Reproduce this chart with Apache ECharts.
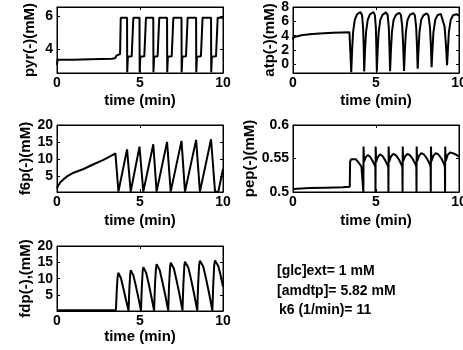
<!DOCTYPE html>
<html>
<head>
<meta charset="utf-8">
<script src="https://cdn.jsdelivr.net/npm/echarts@6.0.0/dist/echarts.min.js"></script>
<style>
html,body{margin:0;padding:0;background:#fff;}
#chart{width:463px;height:350px;}
</style>
</head>
<body>
<div id="chart"></div>
<script>
// ---- data: [time (min), value (mM)] ----
const pyrData = [
  [0,3.05],[0.03,3.38],[1.0,3.38],[2.0,3.41],[3.3,3.44],[3.5,3.47],[3.58,3.62],[3.8,3.72],
  [3.84,5.9],[4.22,5.9],[4.23,2.62],[4.27,3.56],[4.5,3.58],[4.55,3.68],[4.59,3.7],
  [4.6,5.9],[4.97,5.9],[4.98,2.62],[5.02,3.56],[5.26,3.58],[5.31,3.68],[5.35,3.7],
  [5.36,5.9],[5.8,5.9],[5.81,2.62],[5.85,3.56],[6.06,3.58],[6.11,3.68],[6.15,3.7],
  [6.16,5.9],[6.63,5.9],[6.64,2.62],[6.68,3.56],[6.91,3.58],[6.96,3.68],[7.0,3.7],
  [7.01,5.9],[7.5,5.9],[7.51,2.62],[7.55,3.56],[7.77,3.58],[7.82,3.68],[7.86,3.7],
  [7.87,5.9],[8.38,5.9],[8.39,2.62],[8.43,3.56],[8.67,3.58],[8.72,3.68],[8.76,3.7],
  [8.77,5.9],[9.28,5.9],[9.29,2.62],[9.33,3.56],[9.58,3.58],[9.63,3.68],[9.67,3.7],
  [9.68,5.9],[10,5.9]
];
const atpData = [
  [0,3.45],[0.02,3.75],[0.2,3.9],[0.5,4.05],[1.0,4.2],[1.6,4.3],[2.4,4.4],[3.4,4.47],[3.44,4.45],
  [3.51,-1.1],[3.56,2.0],[3.62,4.5],[3.72,6.2],[3.85,6.95],[4.06,7.3],[4.16,6.9],[4.22,5.2],[4.26,2.5],
  [4.29,-1.0],[4.34,2.0],[4.40,4.5],[4.50,6.2],[4.63,6.95],[4.84,7.3],[4.93,6.9],[4.99,5.2],[5.02,2.5],
  [5.05,-1.0],[5.1,2.0],[5.16,4.5],[5.26,6.2],[5.39,6.9],[5.6,7.25],[5.7,6.9],[5.77,5.2],[5.81,2.5],
  [5.85,-0.95],[5.9,2.0],[5.96,4.5],[6.06,6.2],[6.2,6.9],[6.4,7.2],[6.5,6.9],[6.58,5.3],[6.64,2.5],
  [6.69,-0.9],[6.74,2.0],[6.8,4.5],[6.9,6.2],[7.04,6.9],[7.24,7.15],[7.34,6.85],[7.42,5.2],[7.47,2.5],
  [7.51,-0.6],[7.56,2.0],[7.62,4.5],[7.72,6.2],[7.86,6.85],[8.06,7.1],[8.16,6.8],[8.25,5.2],[8.31,2.5],
  [8.35,-0.4],[8.4,2.0],[8.46,4.5],[8.57,6.2],[8.7,6.85],[8.9,7.05],[9.02,6.8],[9.13,5.3],[9.22,2.5],
  [9.28,-0.1],[9.33,2.0],[9.39,4.5],[9.5,6.2],[9.64,6.85],[9.84,7.0],[10,6.8]
];
const f6pData = [
  [0,1.3],[0.05,1.9],[0.1,2.4],[0.2,3.1],[0.4,4.0],[0.6,4.8],[1.0,5.9],[1.6,7.0],[2.2,8.4],
  [2.8,9.7],[3.2,10.7],[3.52,11.6],
  [3.7,0.3],[3.74,0.3],[4.22,12.8],[4.44,0.3],[4.49,0.3],[4.97,13.6],[5.2,0.3],[5.25,0.3],
  [5.8,14.3],[6.0,0.3],[6.05,0.3],[6.63,15.0],[6.85,0.3],[6.9,0.3],[7.5,15.3],[7.71,0.3],
  [7.76,0.3],[8.38,15.6],[8.61,0.3],[8.66,0.3],[9.28,15.8],[9.52,0.3],[9.72,0.3],[10,7.0]
];
const pepData = [
  [0,0.5045],[0.02,0.5058],[1.0,0.5058],[2.0,0.5065],[3.0,0.5072],[3.42,0.508],
  [3.44,0.545],[3.5,0.549],[3.62,0.551],[3.78,0.549],[3.95,0.544],[4.12,0.538],[4.23,0.537],
  [4.24,0.5],[4.25,0.568],[4.28,0.545],[4.38,0.552],[4.5,0.555],[4.63,0.553],[4.78,0.547],[4.92,0.54],[4.96,0.537],
  [4.97,0.5],[4.98,0.568],[5.01,0.545],[5.11,0.552],[5.24,0.556],[5.38,0.554],[5.54,0.548],[5.7,0.54],[5.74,0.537],
  [5.75,0.5],[5.76,0.568],[5.79,0.545],[5.9,0.553],[6.04,0.557],[6.19,0.555],[6.37,0.549],[6.55,0.54],[6.59,0.537],
  [6.6,0.5],[6.61,0.568],[6.64,0.546],[6.75,0.553],[6.89,0.557],[7.04,0.555],[7.22,0.549],[7.39,0.541],[7.43,0.537],
  [7.44,0.5],[7.45,0.568],[7.48,0.546],[7.59,0.554],[7.73,0.558],[7.89,0.556],[8.07,0.55],[8.25,0.541],[8.29,0.537],
  [8.3,0.5],[8.31,0.568],[8.34,0.546],[8.45,0.554],[8.6,0.558],[8.76,0.556],[8.94,0.55],[9.11,0.541],[9.15,0.537],
  [9.16,0.5],[9.17,0.568],[9.2,0.546],[9.31,0.555],[9.46,0.559],[9.62,0.558],[9.8,0.556],[10,0.553]
];
const fdpData = [
  [0,0.35],[3.55,0.4],
  [3.6,6.5],[3.65,10.5],[3.69,11.8],[3.76,11.6],[3.85,10.2],[4.0,7.0],[4.15,3.6],[4.31,0.2],
  [4.36,7.0],[4.41,11.3],[4.44,12.6],[4.51,12.4],[4.6,11.0],[4.75,7.8],[4.9,4.2],[5.06,0.2],
  [5.11,7.5],[5.16,12.2],[5.2,13.5],[5.27,13.3],[5.37,11.8],[5.52,8.5],[5.68,4.6],[5.85,0.2],
  [5.9,8.0],[5.96,13.0],[6.0,14.45],[6.08,14.2],[6.19,12.6],[6.35,9.0],[6.52,5.0],[6.7,0.2],
  [6.75,8.0],[6.81,13.5],[6.85,14.9],[6.93,14.7],[7.04,13.1],[7.2,9.5],[7.38,5.2],[7.56,0.2],
  [7.61,8.0],[7.67,13.8],[7.71,15.2],[7.79,15.0],[7.91,13.4],[8.08,9.7],[8.26,5.3],[8.45,0.2],
  [8.5,8.0],[8.56,14.0],[8.61,15.5],[8.69,15.3],[8.81,13.7],[8.98,10.0],[9.17,5.3],[9.36,0.2],
  [9.41,8.0],[9.47,14.1],[9.52,15.6],[9.6,15.4],[9.72,13.8],[9.88,10.5],[10,7.5]
];
const pyrTicks = [4, 6];
const atpTicks = [0, 2, 4, 6, 8];
const f6pTicks = [5, 10, 15, 20];
const pepTicks = [0.5, 0.55, 0.6];
const fdpTicks = [5, 10, 15, 20];
const xName = 'time (min)';
const notes = ['[glc]ext= 1 mM', '[amdtp]= 5.82 mM', 'k6 (1/min)= 11'];

// ---- layout ----
const FONT = 'Liberation Sans, Arial, Helvetica, sans-serif';
const panels = [
  {name:'pyr(-)(mM)',  data:pyrData, ticks:pyrTicks, min:2.58, max:6.54, left:57,  top:7,   height:66, yGap:20, xGap:20},
  {name:'atp(-)(mM)',  data:atpData, ticks:atpTicks, min:-1.2, max:8,    left:293, top:7,   height:66, yGap:16, xGap:20},
  {name:'f6p(-)(mM)',  data:f6pData, ticks:f6pTicks, min:0.2,  max:20,   left:57,  top:125, height:67, yGap:21, xGap:21},
  {name:'pep(-)(mM)',  data:pepData, ticks:pepTicks, min:0.5,  max:0.6,  left:293, top:125, height:67, yGap:33, xGap:21},
  {name:'fdp(-),(mM)', data:fdpData, ticks:fdpTicks, min:0.1,  max:20,   left:57,  top:246, height:65, yGap:22, xGap:17}
];

const txt = {color:'#000', fontFamily:FONT, fontWeight:'bold'};
const grid = [], xAxis = [], yAxis = [], series = [];
panels.forEach((p, i) => {
  grid.push({left:p.left, top:p.top, width:166, height:p.height, show:true,
             borderColor:'#000', borderWidth:1, backgroundColor:'#fff',
             containLabel:false, outerBoundsMode:'none'});
  const xBase = {type:'value', gridIndex:i, min:0, max:10, interval:5,
    splitLine:{show:false}, axisLine:{show:true, onZero:false, lineStyle:{color:'#000', width:1}},
    axisTick:{show:true, inside:true, length:3, lineStyle:{color:'#000'}}};
  xAxis.push(Object.assign({}, xBase, {position:'bottom',
    axisLabel:Object.assign({show:true, fontSize:14, margin:3, showMinLabel:true, showMaxLabel:true}, txt),
    name:xName, nameLocation:'middle', nameGap:p.xGap,
    nameTextStyle:Object.assign({fontSize:15}, txt)}));
  xAxis.push(Object.assign({}, xBase, {position:'top', axisLabel:{show:false}}));
  const yBase = {type:'value', gridIndex:i, min:p.min, max:p.max,
    splitLine:{show:false}, axisLine:{show:true, onZero:false, lineStyle:{color:'#000', width:1}},
    axisTick:{show:true, inside:true, length:3, customValues:p.ticks, lineStyle:{color:'#000'}}};
  yAxis.push(Object.assign({}, yBase, {position:'left',
    axisLabel:Object.assign({show:true, fontSize:14, margin:4, customValues:p.ticks}, txt),
    name:p.name, nameLocation:'middle', nameGap:p.yGap,
    nameTextStyle:Object.assign({fontSize:15}, txt)}));
  yAxis.push(Object.assign({}, yBase, {position:'right', axisLabel:{show:false}}));
  series.push({type:'line', xAxisIndex:2*i, yAxisIndex:2*i, data:p.data,
    showSymbol:false, symbol:'none', clip:true,
    lineStyle:{color:'#000', width:2}, emphasis:{disabled:true}});
});

const noteY = [272, 292, 311];
const noteX = [277, 277, 279];
const graphic = notes.map((t, k) => ({type:'text', left:noteX[k], top:noteY[k]-8,
  style:{text:t, fill:'#000', font:'bold 14px ' + FONT}}));

const chart = echarts.init(document.getElementById('chart'), null, {renderer:'canvas'});
chart.setOption({animation:false, backgroundColor:'#fff', grid, xAxis, yAxis, series, graphic});
</script>
</body>
</html>
